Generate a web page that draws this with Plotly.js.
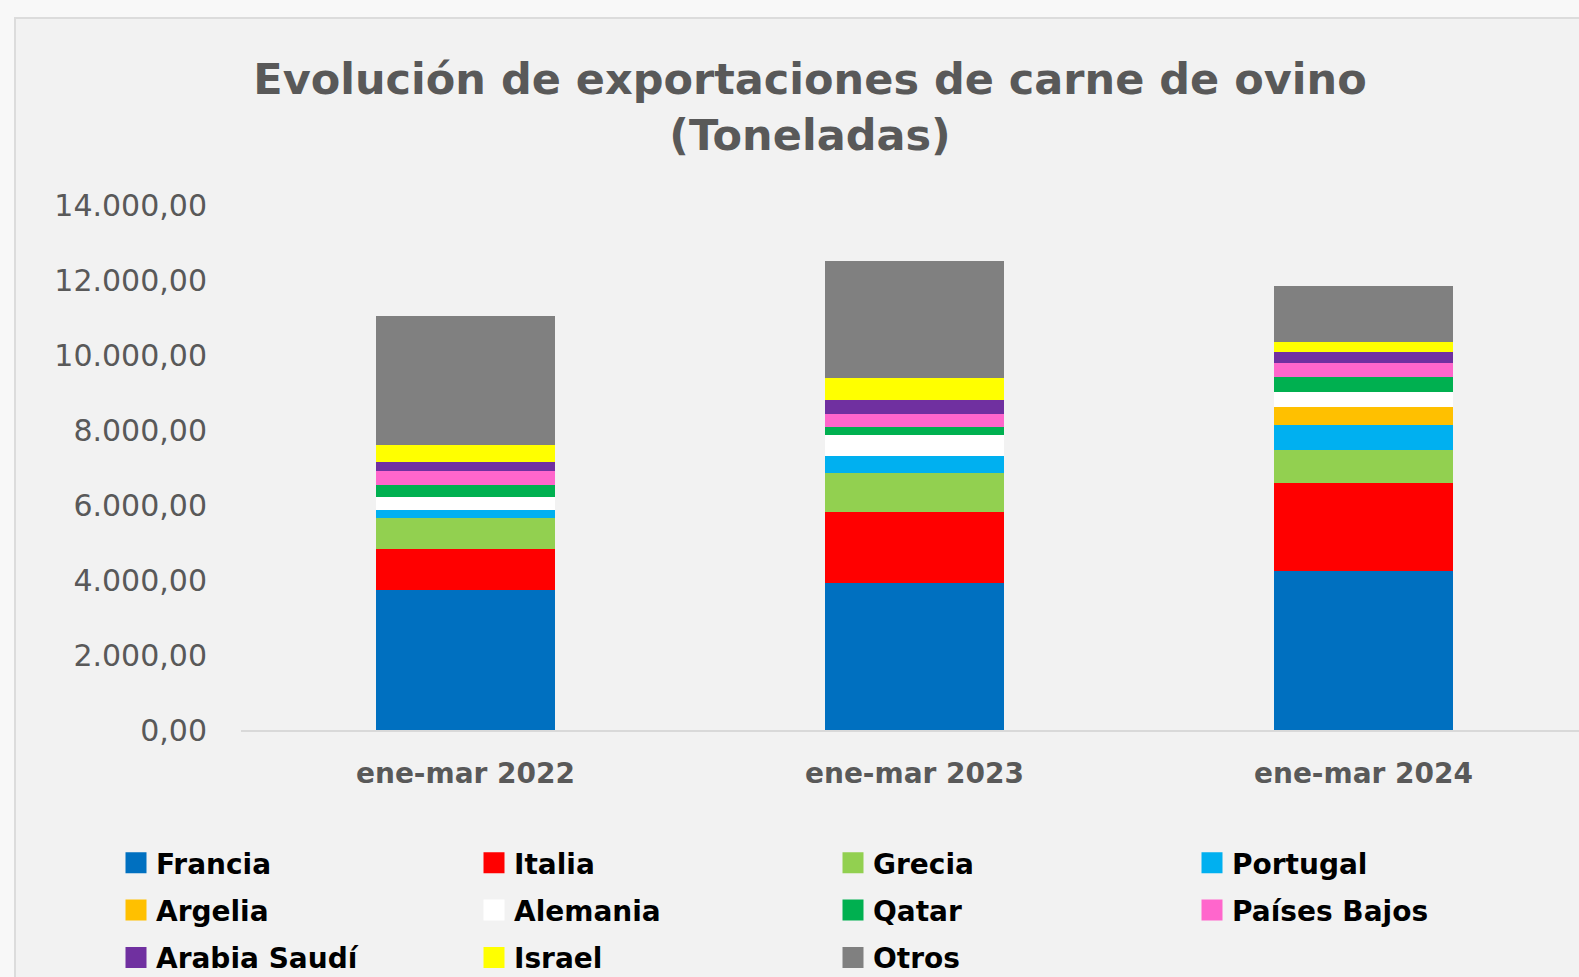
<!DOCTYPE html>
<html>
<head>
<meta charset="utf-8">
<script src="https://cdn.plot.ly/plotly-3.0.1.min.js"></script>
<style>
html,body{margin:0;padding:0;width:1579px;height:977px;overflow:hidden;background:#f8f8f8;}
#frame{position:absolute;left:14px;top:17px;width:1600px;height:1000px;border-left:2px solid #dcdcdc;border-top:2px solid #dcdcdc;background:#f2f2f2;}
#chart{position:absolute;left:0;top:0;}
</style>
</head>
<body>
<div id="frame"><div id="chart"></div></div>
<script>
const categories = ["ene-mar 2022", "ene-mar 2023", "ene-mar 2024"];
const francia   = [3746, 3923, 4252];
const italia    = [1092, 1882, 2334];
const grecia    = [808, 1039, 870];
const portugal  = [221, 471, 666];
const argelia   = [0, 0, 479];
const alemania  = [346, 541, 418];
const qatar     = [330, 222, 399];
const paisesBajos = [354, 355, 382];
const arabia    = [240, 364, 275];
const israel    = [453, 603, 284];
const otros     = [3462, 3098, 1473];

// name, values, colour, legend column
const series = [
  ["Francia", francia, "#0070C0", "legend"],
  ["Italia", italia, "#FF0000", "legend2"],
  ["Grecia", grecia, "#92D050", "legend3"],
  ["Portugal", portugal, "#00B0F0", "legend4"],
  ["Argelia", argelia, "#FFC000", "legend"],
  ["Alemania", alemania, "#FFFFFF", "legend2"],
  ["Qatar", qatar, "#00B050", "legend3"],
  ["Países Bajos", paisesBajos, "#FF66CC", "legend4"],
  ["Arabia Saudí", arabia, "#7030A0", "legend"],
  ["Israel", israel, "#FFFF00", "legend2"],
  ["Otros", otros, "#808080", "legend3"]
];

const traces = [];
series.forEach(s => {
  traces.push({type:"bar", name:s[0], x:categories, y:s[1], marker:{color:s[2], line:{width:0}}, showlegend:false, hoverinfo:"name+y"});
});
series.forEach(s => {
  traces.push({type:"scatter", mode:"markers", name:s[0], x:[null], y:[null],
    marker:{symbol:"square", size:16, color:s[2], line:{color:s[2], width:5}},
    legend:s[3], legendgroup:s[0], showlegend:true, hoverinfo:"skip"});
});

const W = 1575, H = 958;
const FONT = "'DejaVu Sans', sans-serif";
const legTop = 1 - 819/H;
function leg(xpx){
  return {orientation:"v", xref:"container", yref:"container", x:xpx/W, xanchor:"left", y:legTop, yanchor:"top",
    traceorder:"grouped", tracegroupgap:8, bgcolor:"rgba(0,0,0,0)", itemwidth:30,
    font:{family:FONT, size:28, color:"#000000", weight:"bold"}};
}

const layout = {
  width:W, height:H,
  paper_bgcolor:"#f2f2f2", plot_bgcolor:"#f2f2f2",
  margin:{l:225, r:3, t:186, b:246.5, pad:0, autoexpand:false},
  barmode:"stack", bargap:0.6,
  separators:",.",
  title:{text:"Evolución de exportaciones de carne de ovino<br>(Toneladas)", x:794/W, xanchor:"center", xref:"container",
    y:1-75/H, yanchor:"middle", yref:"container",
    font:{family:FONT, size:43, color:"#595959", weight:"bold"}},
  xaxis:{showline:true, linecolor:"#d9d9d9", linewidth:2, ticks:"", showgrid:false, zeroline:false, tickangle:0, automargin:false,
    tickfont:{family:FONT, size:28, color:"#595959", weight:"bold"}, ticklabelstandoff:17},
  yaxis:{range:[0,14000], tickvals:[0,2000,4000,6000,8000,10000,12000,14000], tickformat:",.2f", showgrid:false, zeroline:false, showline:false, ticks:"", automargin:false,
    tickfont:{family:FONT, size:30, color:"#595959"}, ticklabelstandoff:33},
  legend: leg(100),
  legend2: leg(458),
  legend3: leg(817),
  legend4: leg(1176),
  showlegend:true
};

Plotly.newPlot("chart", traces, layout, {displayModeBar:false, responsive:false});
</script>
</body>
</html>
